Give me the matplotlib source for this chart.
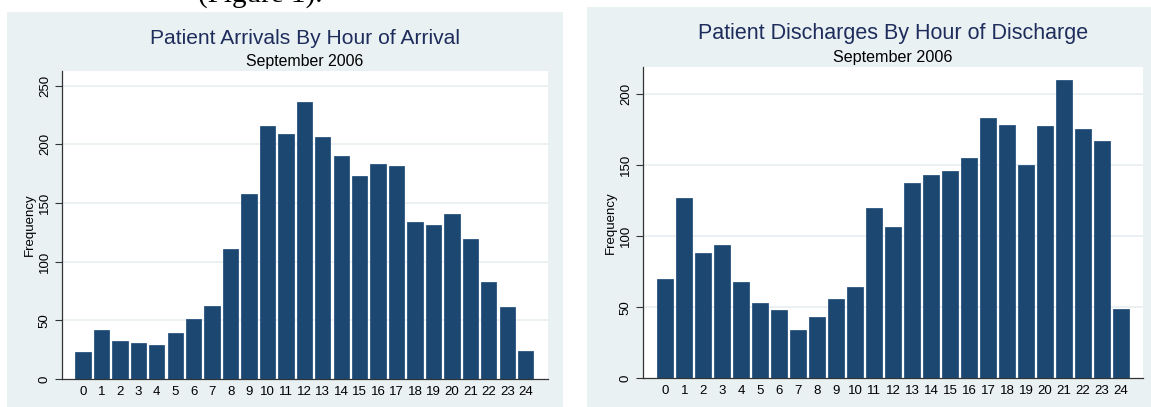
import matplotlib
matplotlib.use("Agg")
import matplotlib.pyplot as plt
from matplotlib.patches import Rectangle

hours = list(range(25))
hour_labels = [str(h) for h in hours]
arrivals = [23, 42, 32, 31, 29, 39, 51, 62, 111, 158, 216, 209, 236, 206, 190,
            173, 183, 182, 134, 131, 141, 119, 83, 61, 24]
discharges = [70, 127, 88, 94, 68, 53, 48, 34, 43, 56, 64, 120, 106, 137, 143,
              146, 155, 183, 178, 150, 177, 210, 175, 167, 49]

titles = ["Patient Arrivals By Hour of Arrival", "Patient Discharges By Hour of Discharge"]
subtitle = "September 2006"
ylabel = "Frequency"

plt.rcParams['font.family'] = ['Liberation Sans', 'DejaVu Sans']

W, H = 1151, 407
fig = plt.figure(figsize=(W / 100, H / 100), dpi=100)
fig.patch.set_facecolor("white")

bg = "#E9F1F3"
bar_color = "#1C4770"
title_color = "#1E2D5C"

# panel backgrounds
fig.patches.append(Rectangle((7 / W, 0), 556 / W, (H - 12) / H, transform=fig.transFigure,
                             facecolor=bg, edgecolor="none", zorder=-5))
fig.patches.append(Rectangle((587 / W, 0), 564 / W, (H - 7) / H, transform=fig.transFigure,
                             facecolor=bg, edgecolor="none", zorder=-5))

# cut-off text line above
fig.text(322 / W, 1 - 2 / H, "(Figure 1).", fontsize=21, family="Liberation Serif",
         ha="right", va="baseline", color="black")

panels = [
    dict(vals=arrivals, rect=[62 / W, 28 / H, 486 / W, 308 / H], ylim=262.6,
         xlim=(-1.14, 25.21), yticks=[0, 50, 100, 150, 200, 250],
         title_xy=(305, 38.5), sub_xy=(305, 61.5), tfs=15.1, sfs=11.4),
    dict(vals=discharges, rect=[643 / W, 28.7 / H, 500.3 / W, 311.6 / H], ylim=219,
         xlim=(-1.17, 25.17), yticks=[0, 50, 100, 150, 200],
         title_xy=(893, 33.5), sub_xy=(893, 57.5), tfs=15.5, sfs=11.6),
]

for p, title in zip(panels, titles):
    ax = fig.add_axes(p["rect"], zorder=2)
    ax.set_facecolor("white")
    ax.bar(hours, p["vals"], width=0.83, color=bar_color, edgecolor="#2A5580",
           linewidth=0.6, zorder=3)
    ax.set_xlim(*p["xlim"])
    ax.set_ylim(0, p["ylim"])
    ax.set_yticks(p["yticks"])
    ax.set_yticklabels([str(t) for t in p["yticks"]], rotation=90, va="center", fontsize=9.5)
    ax.set_xticks(hours)
    ax.set_xticklabels(hour_labels, fontsize=9.5)
    ax.tick_params(axis="x", length=0, pad=5)
    ax.tick_params(axis="y", length=5, width=0.8, color="#333333", pad=3)
    for t in p["yticks"][1:]:
        ax.axhline(t, color="#E8EFF1", linewidth=1.2, zorder=1)
    for s in ["top", "right"]:
        ax.spines[s].set_visible(False)
    for s in ["left", "bottom"]:
        ax.spines[s].set_color("#333333")
        ax.spines[s].set_linewidth(0.9)
    ax.set_ylabel(ylabel, fontsize=9.5, labelpad=2)
    tx, ty = p["title_xy"]
    fig.text(tx / W, 1 - ty / H, title, fontsize=p["tfs"], color=title_color,
             ha="center", va="center")
    sx, sy = p["sub_xy"]
    fig.text(sx / W, 1 - sy / H, subtitle, fontsize=p["sfs"], color="black",
             ha="center", va="center")

fig.savefig("out.png", dpi=100, facecolor="white")
